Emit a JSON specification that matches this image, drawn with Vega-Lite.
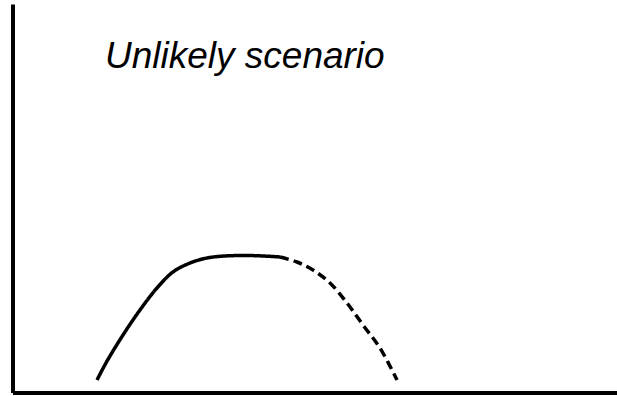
{
  "$schema": "https://vega.github.io/schema/vega-lite/v6.json",
  "width": 604.5,
  "height": 388.5,
  "autosize": "none",
  "padding": {"left": 12.5, "top": 4, "right": 0, "bottom": 3.5},
  "background": "white",
  "config": {"view": {"stroke": null}},
  "datasets": {
    "curve": [
      {"x": 13.98, "y": 3.22, "part": "projected", "order": 1},
      {"x": 15.58, "y": 7.93, "part": "projected", "order": 2},
      {"x": 18.28, "y": 14.8, "part": "projected", "order": 3},
      {"x": 21.09, "y": 21.24, "part": "projected", "order": 4},
      {"x": 23.9, "y": 26.9, "part": "projected", "order": 5},
      {"x": 26.55, "y": 31.02, "part": "projected", "order": 6},
      {"x": 29.36, "y": 33.33, "part": "projected", "order": 7},
      {"x": 32.18, "y": 34.62, "part": "projected", "order": 8},
      {"x": 35.15, "y": 35.14, "part": "projected", "order": 9},
      {"x": 38.79, "y": 35.26, "part": "projected", "order": 10},
      {"x": 41.44, "y": 35.14, "part": "projected", "order": 11},
      {"x": 44.25, "y": 34.88, "part": "projected", "order": 12},
      {"x": 44.25, "y": 34.88, "part": "unlikely", "order": 13},
      {"x": 47.06, "y": 33.59, "part": "unlikely", "order": 14},
      {"x": 49.71, "y": 31.53, "part": "unlikely", "order": 15},
      {"x": 52.52, "y": 28.19, "part": "unlikely", "order": 16},
      {"x": 55.34, "y": 23.04, "part": "unlikely", "order": 17},
      {"x": 57.98, "y": 17.37, "part": "unlikely", "order": 18},
      {"x": 60.79, "y": 11.45, "part": "unlikely", "order": 19},
      {"x": 63.61, "y": 3.22, "part": "unlikely", "order": 20}
    ],
    "label": [
      {"x": 15.3, "y": 83.5, "text": "Unlikely scenario"}
    ]
  },
  "layer": [
    {
      "data": {"name": "curve"},
      "mark": {"type": "line", "interpolate": "catmull-rom", "strokeWidth": 3.5, "color": "black", "strokeCap": "butt"},
      "encoding": {
        "x": {"field": "x", "type": "quantitative", "scale": {"domain": [0, 100], "nice": false, "zero": false},
          "axis": {"domain": true, "domainWidth": 4, "domainColor": "black", "ticks": false, "labels": false, "grid": false, "title": null}},
        "y": {"field": "y", "type": "quantitative", "scale": {"domain": [0, 100], "nice": false, "zero": false},
          "axis": {"domain": true, "domainWidth": 4, "domainColor": "black", "ticks": false, "labels": false, "grid": false, "title": null}},
        "detail": {"field": "part"},
        "order": {"field": "order"},
        "strokeDash": {"field": "part", "type": "nominal", "scale": {"domain": ["projected", "unlikely"], "range": [[1, 0], [9, 5]]}, "legend": null}
      }
    },
    {
      "data": {"name": "label"},
      "mark": {"type": "text", "align": "left", "baseline": "alphabetic", "font": "Liberation Sans", "fontStyle": "italic", "fontSize": 37, "color": "black"},
      "encoding": {
        "x": {"field": "x", "type": "quantitative"},
        "y": {"field": "y", "type": "quantitative"},
        "text": {"field": "text"}
      }
    }
  ]
}
